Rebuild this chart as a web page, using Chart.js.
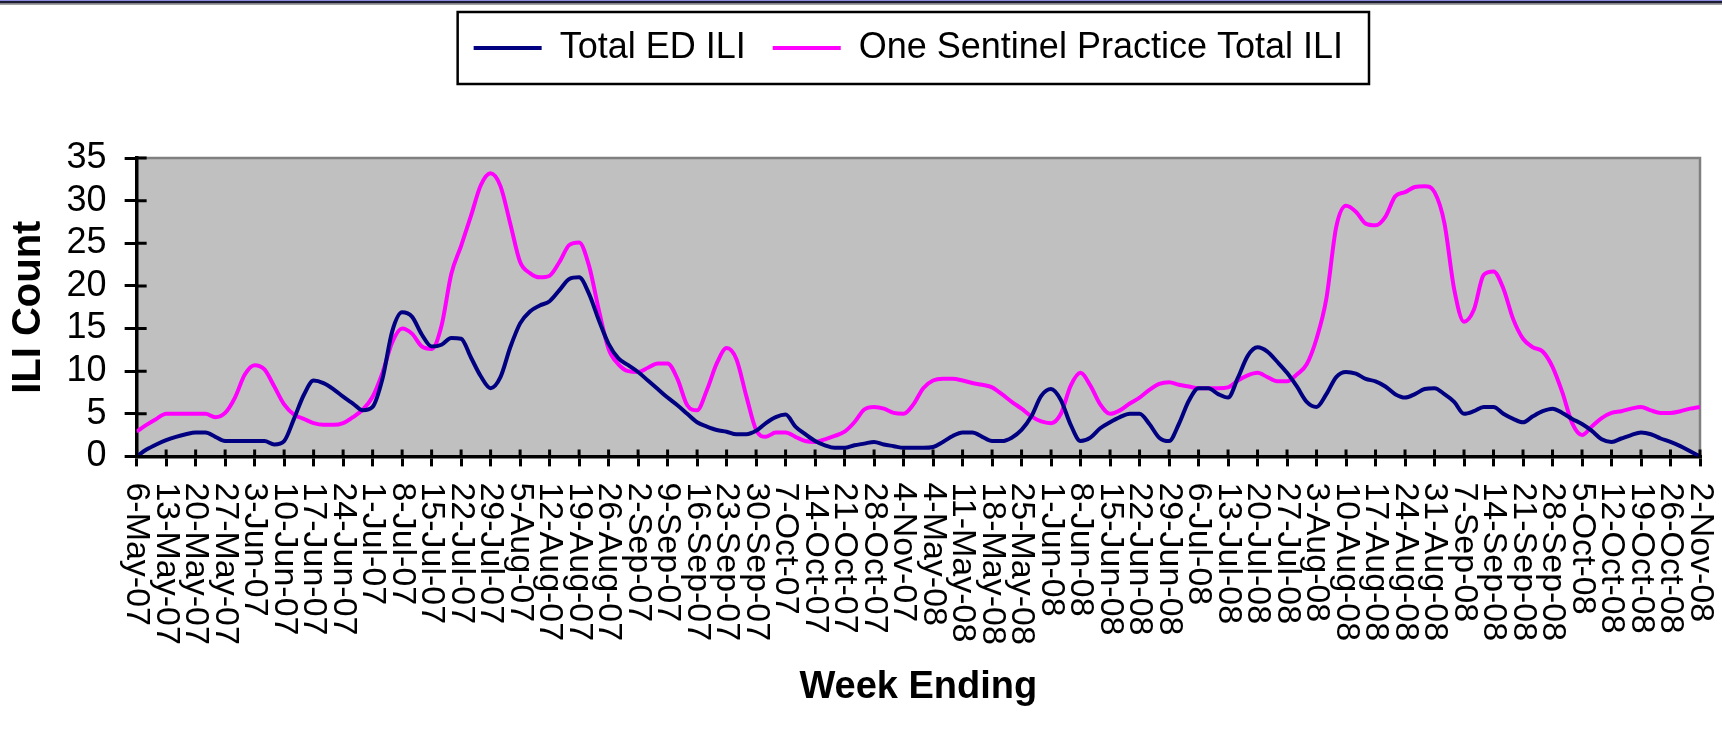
<!DOCTYPE html>
<html>
<head>
<meta charset="utf-8">
<title>ILI Count</title>
<script src="https://cdn.jsdelivr.net/npm/chart.js@4.4.0/dist/chart.umd.min.js"></script>
<style>
    html, body { margin: 0; padding: 0; background: #fff; overflow: hidden; }
    canvas { display: block; }
</style>
</head>
<body>
<canvas id="iliChart" width="1722" height="755"></canvas>
<script>
// Week ending labels (the gap Nov-07 to May-08 is collapsed in the original)
const weekLabels = [
    '6-May-07', '13-May-07', '20-May-07', '27-May-07', '3-Jun-07', '10-Jun-07', '17-Jun-07',
    '24-Jun-07', '1-Jul-07', '8-Jul-07', '15-Jul-07', '22-Jul-07', '29-Jul-07', '5-Aug-07',
    '12-Aug-07', '19-Aug-07', '26-Aug-07', '2-Sep-07', '9-Sep-07', '16-Sep-07', '23-Sep-07',
    '30-Sep-07', '7-Oct-07', '14-Oct-07', '21-Oct-07', '28-Oct-07', '4-Nov-07',
    '4-May-08', '11-May-08', '18-May-08', '25-May-08', '1-Jun-08', '8-Jun-08', '15-Jun-08',
    '22-Jun-08', '29-Jun-08', '6-Jul-08', '13-Jul-08', '20-Jul-08', '27-Jul-08', '3-Aug-08',
    '10-Aug-08', '17-Aug-08', '24-Aug-08', '31-Aug-08', '7-Sep-08', '14-Sep-08', '21-Sep-08',
    '28-Sep-08', '5-Oct-08', '12-Oct-08', '19-Oct-08', '26-Oct-08', '2-Nov-08'
];

// readings are taken three times per week
const readingsPerWeek = 3;

const edIli = [
    0, 0.8, 1.4, 1.9, 2.3, 2.6, 2.8, 2.8, 2.3, 1.8, 1.8, 1.8, 1.8, 1.8, 1.4, 1.8,
    4.4, 7.2, 8.9, 8.6, 7.9, 7.0, 6.2, 5.4, 5.8, 9.1, 14.7, 16.9, 16.4, 14.3, 12.9, 13.1,
    13.9, 13.8, 11.6, 9.4, 8.0, 9.3, 12.8, 15.6, 17.0, 17.7, 18.2, 19.5, 20.8, 21.0, 19.1, 16.0,
    13.2, 11.5, 10.7, 9.9, 8.9, 7.9, 6.9, 6.0, 5.0, 4.0, 3.5, 3.1, 2.9, 2.6, 2.6, 3.0,
    3.9, 4.6, 4.9, 3.5, 2.6, 1.8, 1.3, 1.0, 1.0, 1.3, 1.5, 1.7, 1.4, 1.2, 1.0, 1.0,
    1.0, 1.1, 1.7, 2.4, 2.8, 2.8, 2.3, 1.8, 1.8, 2.2, 3.1, 4.7, 7.1, 7.9, 6.6, 3.7,
    1.8, 2.2, 3.3, 4.0, 4.6, 5.0, 5.0, 3.8, 2.2, 1.8, 3.8, 6.5, 8.0, 8.0, 7.3, 6.9,
    9.2, 11.8, 12.8, 12.3, 11.1, 9.8, 8.2, 6.4, 5.8, 7.3, 9.3, 9.9, 9.7, 9.1, 8.8, 8.2,
    7.3, 6.9, 7.3, 7.9, 8.0, 7.3, 6.4, 5.0, 5.3, 5.8, 5.8, 5.0, 4.4, 4.0, 4.7, 5.3,
    5.6, 5.1, 4.4, 3.8, 3.0, 2.0, 1.7, 2.1, 2.5, 2.8, 2.6, 2.1, 1.7, 1.2, 0.6, 0
];

const sentinelIli = [
    2.9, 3.7, 4.4, 5.0, 5.0, 5.0, 5.0, 5.0, 4.6, 5.1, 6.9, 9.6, 10.7, 10.2, 8.2, 6.1,
    4.9, 4.4, 3.9, 3.7, 3.7, 3.9, 4.6, 5.5, 7.0, 9.8, 13.4, 15.0, 14.4, 12.9, 12.6, 15.3,
    21.4, 24.7, 28.2, 31.8, 33.2, 31.7, 27.3, 22.8, 21.5, 21.0, 21.2, 22.8, 24.8, 25.1, 22.4, 17.2,
    12.6, 10.8, 10.0, 9.9, 10.4, 10.9, 10.9, 9.1, 6.0, 5.4, 7.8, 10.9, 12.7, 11.4, 7.1, 3.1,
    2.3, 2.8, 2.8, 2.3, 1.8, 1.7, 2.0, 2.4, 2.9, 4.0, 5.5, 5.8, 5.6, 5.1, 5.0, 6.1,
    8.0, 8.9, 9.1, 9.1, 8.9, 8.6, 8.4, 8.1, 7.3, 6.4, 5.6, 4.7, 4.1, 3.9, 5.0, 8.3,
    9.8, 8.3, 6.1, 5.0, 5.4, 6.2, 6.9, 7.8, 8.5, 8.7, 8.4, 8.2, 8.0, 8.0, 8.0, 8.1,
    8.9, 9.5, 9.8, 9.3, 8.8, 8.8, 9.6, 10.8, 13.8, 18.5, 26.9, 29.4, 28.7, 27.3, 27.1, 28.1,
    30.5, 31.0, 31.6, 31.7, 31.0, 27.4, 19.6, 15.8, 17.2, 21.3, 21.7, 19.7, 16.1, 13.8, 12.8, 12.3,
    10.5, 7.5, 3.9, 2.5, 3.5, 4.5, 5.1, 5.3, 5.6, 5.8, 5.4, 5.1, 5.1, 5.3, 5.6, 5.8
];

const yMin = 0, yMax = 35, yStep = 5;

const fontFamily = "'Liberation Sans', Arial, sans-serif";

function toPoints(values) {
    return values.map(function(v, i) { return { x: i / readingsPerWeek, y: v }; });
}

// grey plot area, top rule, white page
const backdrop = {
    id: 'backdrop',
    beforeDraw: function(chart) {
        const c = chart.ctx;
        const a = chart.chartArea;
        c.save();
        c.fillStyle = '#fff';
        c.fillRect(0, 0, chart.width, chart.height);
        c.fillStyle = '#8c8cdc';
        c.fillRect(0, 0, chart.width, 1);
        c.fillStyle = '#1c1c34';
        c.fillRect(0, 1, chart.width, 2.5);
        c.fillStyle = '#7a7a7a';
        c.fillRect(0, 3.5, chart.width, 1.2);
        c.fillStyle = '#c0c0c0';
        c.fillRect(a.left, a.top, a.right - a.left, a.bottom - a.top);
        c.strokeStyle = '#808080';
        c.lineWidth = 2.5;
        c.strokeRect(a.left, a.top, a.right - a.left, a.bottom - a.top);
        c.restore();
    }
};

// extra room under the legend, and nudge it a little left like the original
const legendSpace = {
    id: 'legendSpace',
    beforeInit: function(chart) {
        const fitFn = chart.legend.fit;
        chart.legend.fit = function() {
            fitFn.bind(chart.legend)();
            this.height += 82;
        };
    },
    afterLayout: function(chart) {
        chart.legend.left -= 10;
        chart.legend.right -= 10;
    }
};

// box round the legend, rotated week labels, tick marks crossing the axes
const decorations = {
    id: 'decorations',
    afterDraw: function(chart) {
        const c = chart.ctx;
        const xs = chart.scales.x;
        const ys = chart.scales.y;
        const a = chart.chartArea;
        c.save();

        const hb = chart.legend.legendHitBoxes;
        if (hb && hb.length) {
            const first = hb[0], last = hb[hb.length - 1];
            const left = first.left - 16;
            const right = last.left + last.width + 26;
            c.strokeStyle = '#000';
            c.lineWidth = 2.5;
            c.strokeRect(left, first.top - 18, right - left, first.height + 36);
        }

        c.strokeStyle = '#000';
        c.lineWidth = 3;
        c.beginPath();
        weekLabels.forEach(function(lab, i) {
            const px = xs.getPixelForValue(i);
            c.moveTo(px, a.bottom);
            c.lineTo(px, a.bottom - 7);
        });
        for (let v = yMin; v <= yMax; v += yStep) {
            const py = ys.getPixelForValue(v);
            c.moveTo(a.left, py);
            c.lineTo(a.left + 10, py);
        }
        c.stroke();

        c.fillStyle = '#000';
        c.font = '34px ' + fontFamily;
        c.textAlign = 'left';
        c.textBaseline = 'middle';
        weekLabels.forEach(function(lab, i) {
            const px = xs.getPixelForValue(i);
            c.save();
            c.translate(px, a.bottom + 26);
            c.rotate(Math.PI / 2);
            c.fillText(lab, 0, 0);
            c.restore();
        });
        c.restore();
    }
};

const ctx = document.getElementById('iliChart').getContext('2d');
const iliChart = new Chart(ctx, {
    type: 'line',
    data: {
        datasets: [{
            label: 'Total ED ILI',
            data: toPoints(edIli),
            borderColor: '#000080',
            backgroundColor: '#000080',
            borderWidth: 4,
            pointRadius: 0,
            cubicInterpolationMode: 'monotone',
            fill: false
        }, {
            label: 'One Sentinel Practice Total ILI',
            data: toPoints(sentinelIli),
            borderColor: '#ff00ff',
            backgroundColor: '#ff00ff',
            borderWidth: 4,
            pointRadius: 0,
            cubicInterpolationMode: 'monotone',
            fill: false
        }]
    },
    options: {
        responsive: false,
        animation: false,
        devicePixelRatio: 1,
        layout: { padding: { top: 3, left: 0, right: 22, bottom: 0 } },
        plugins: {
            legend: {
                fullSize: false,
                labels: {
                    boxWidth: 68,
                    boxHeight: 4,
                    padding: 27,
                    color: '#000',
                    font: { family: fontFamily, size: 36 },
                    generateLabels: function(chart) {
                        return Chart.defaults.plugins.legend.labels.generateLabels(chart).map(function(l) {
                            l.lineWidth = 0;
                            return l;
                        });
                    }
                }
            },
            tooltip: { enabled: false }
        },
        scales: {
            x: {
                type: 'linear',
                min: 0,
                max: weekLabels.length - 1,
                ticks: { stepSize: 1, display: false, autoSkip: false },
                grid: { drawOnChartArea: false, drawTicks: true, tickLength: 10, color: '#000', lineWidth: 3 },
                border: { color: '#000', width: 3.5 },
                title: {
                    display: true,
                    text: 'Week Ending',
                    color: '#000',
                    font: { family: fontFamily, size: 38, weight: 'bold' },
                    padding: { top: 198, bottom: 45 }
                }
            },
            y: {
                min: yMin,
                max: yMax,
                ticks: { stepSize: yStep, autoSkip: false, padding: 18, color: '#000', font: { family: fontFamily, size: 36 } },
                grid: { drawOnChartArea: false, drawTicks: true, tickLength: 12, color: '#000', lineWidth: 3 },
                border: { color: '#000', width: 3.5 },
                title: {
                    display: true,
                    text: 'ILI Count',
                    color: '#000',
                    font: { family: fontFamily, size: 40, weight: 'bold' },
                    padding: { top: 5, bottom: -4.4 }
                }
            }
        }
    },
    plugins: [backdrop, legendSpace, decorations]
});
</script>
</body>
</html>
